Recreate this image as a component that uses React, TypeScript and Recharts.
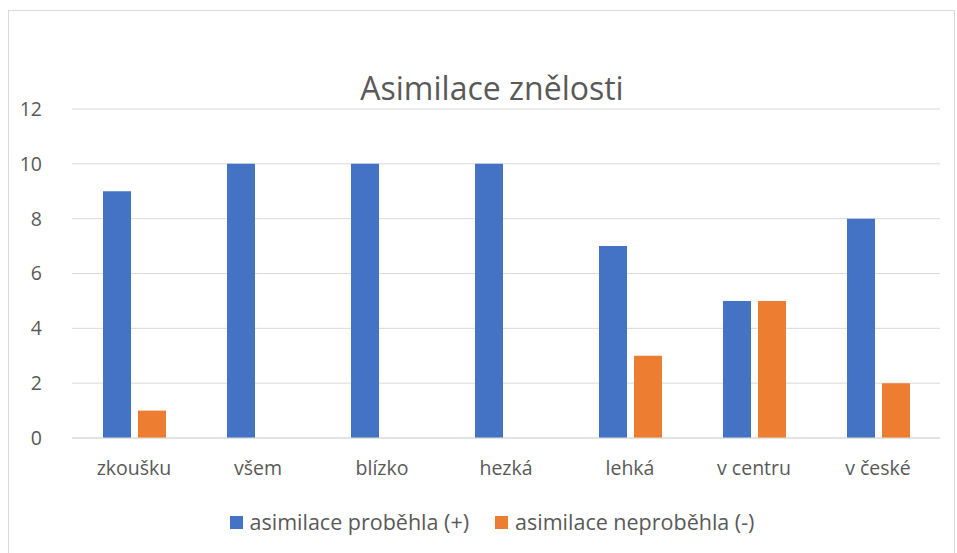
import { BarChart, Bar, XAxis, YAxis, CartesianGrid } from "recharts";

const categories = ["zkoušku", "všem", "blízko", "hezká", "lehká", "v centru", "v české"];
const proběhla = [9, 10, 10, 10, 7, 5, 8];
const neproběhla = [1, 0, 0, 0, 3, 5, 2];
const yTicks = [0, 2, 4, 6, 8, 10, 12];

const series = [
  { key: "plus", name: "asimilace proběhla (+)", color: "#4472C4" },
  { key: "minus", name: "asimilace neproběhla (-)", color: "#ED7D31" },
];

const data = categories.map((name, i) => ({
  name,
  plus: proběhla[i],
  minus: neproběhla[i],
}));

const FONT = "'Open Sans', 'Liberation Sans', sans-serif";
const TEXT = "#595959";

export default function App() {
  return (
    <div
      style={{
        position: "absolute",
        left: 8,
        top: 10,
        width: 945,
        height: 545,
        border: "1px solid #d9d9d9",
        background: "#fff",
        fontFamily: FONT,
      }}
    >
      <div
        style={{
          position: "absolute",
          left: 0,
          width: 966,
          top: 55,
          textAlign: "center",
          fontSize: 32,
          lineHeight: "44px",
          color: TEXT,
        }}
      >
        Asimilace znělosti
      </div>
      <BarChart
        width={945}
        height={545}
        data={data}
        margin={{ top: 98, right: 14, bottom: 68, left: 0 }}
        barGap={7}
        barCategoryGap="25%"
      >
        <CartesianGrid vertical={false} stroke="#d9d9d9" />
        <XAxis
          dataKey="name"
          axisLine={{ stroke: "#d9d9d9" }}
          tickLine={false}
          tick={{ fill: TEXT, fontSize: 19.5, fontFamily: FONT }}
          tickMargin={17}
          height={50}
        />
        <YAxis
          domain={[0, 12]}
          ticks={yTicks}
          width={63}
          axisLine={false}
          tickLine={false}
          tick={{ fill: TEXT, fontSize: 19.5, fontFamily: FONT }}
          tickMargin={24}
        />
        {series.map((s) => (
          <Bar key={s.key} dataKey={s.key} name={s.name} fill={s.color} isAnimationActive={false} />
        ))}
      </BarChart>
      <div
        style={{
          position: "absolute",
          left: 0,
          width: 966,
          top: 496,
          display: "flex",
          justifyContent: "center",
          gap: 26,
          fontSize: 21.5,
          lineHeight: "30px",
          color: TEXT,
        }}
      >
        {series.map((s) => (
          <div key={s.key} style={{ display: "flex", alignItems: "center" }}>
            <span style={{ width: 13, height: 13, background: s.color, marginRight: 7, display: "inline-block" }} />
            <span>{s.name}</span>
          </div>
        ))}
      </div>
    </div>
  );
}
